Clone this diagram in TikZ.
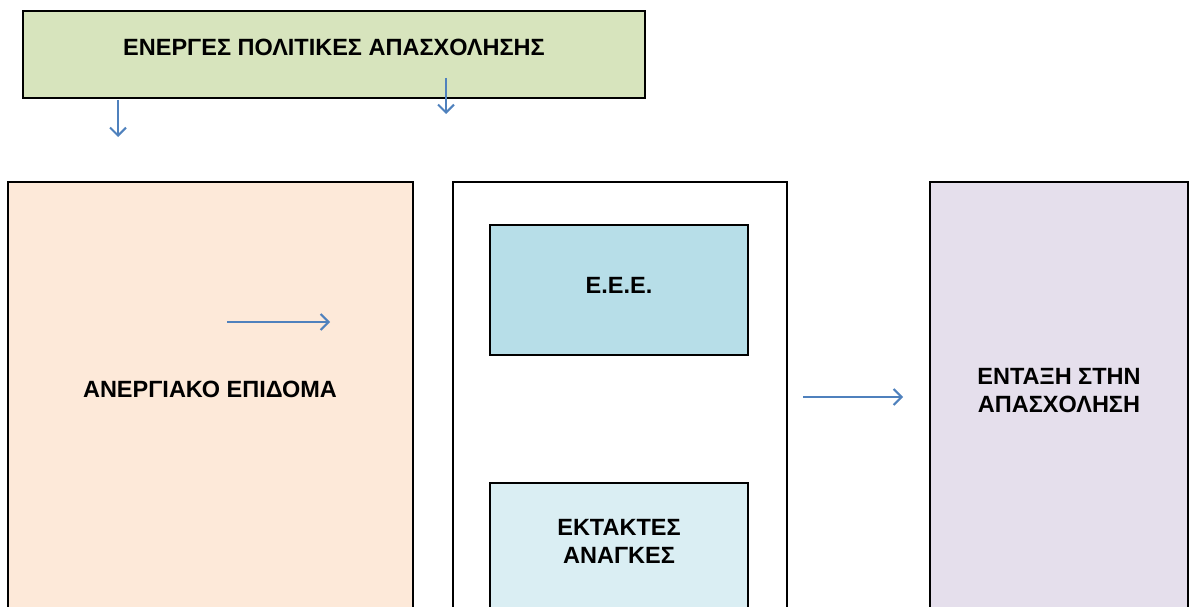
\documentclass[tikz,border=0pt]{standalone}
\usepackage{fontspec}
\setmainfont{Liberation Sans}
\usetikzlibrary{arrows.meta}
\definecolor{prasino}{HTML}{D7E4BD}
\definecolor{somon}{HTML}{FDE9D9}
\definecolor{galazio}{HTML}{B7DEE8}
\definecolor{anoixto}{HTML}{DAEEF3}
\definecolor{lila}{HTML}{E5DFEC}
\definecolor{velos}{HTML}{4F81BD}
\tikzset{
	koutI/.style={draw=black, line width=1.6pt, rectangle, inner sep=0pt},
	keimeno/.style={font=\fontsize{23.5}{28}\selectfont\bfseries, align=center, inner sep=0pt},
	velaki/.style={draw=velos, line width=2pt, -{Straight Barb[length=8pt,width=16pt,line width=2pt]}}
}
\begin{document}
\begin{tikzpicture}[x=1pt,y=-1pt]
		\useasboundingbox (0,0) rectangle (1190,607);
		\clip (0,0) rectangle (1190,607);
		\node[koutI, fill=prasino, minimum width=622pt, minimum height=87pt] (energes) at (334,54.5) {};
		\node[keimeno] (energes-txt) at (334,47) {ΕΝΕΡΓΕΣ ΠΟΛΙΤΙΚΕΣ ΑΠΑΣΧΟΛΗΣΗΣ};
		\node[koutI, fill=somon, minimum width=405pt, minimum height=450pt] (epidoma) at (210.5,407) {};
		\node[keimeno] (epidoma-txt) at (210,389) {ΑΝΕΡΓΙΑΚΟ ΕΠΙΔΟΜΑ};
		\node[koutI, fill=white, minimum width=334pt, minimum height=450pt] (mesaio) at (620,407) {};
		\node[koutI, fill=galazio, minimum width=258pt, minimum height=130pt] (eee) at (619,290) {};
		\node[keimeno] (eee-txt) at (619,285) {Ε.Ε.Ε.};
		\node[koutI, fill=anoixto, minimum width=258pt, minimum height=150pt] (ektaktes) at (619,558) {};
		\node[keimeno] (ektaktes-txt) at (619,541) {ΕΚΤΑΚΤΕΣ\\ΑΝΑΓΚΕΣ};
		\node[koutI, fill=lila, minimum width=258pt, minimum height=450pt] (entaxi) at (1059,407) {};
		\node[keimeno] (entaxi-txt) at (1059,391) {ΕΝΤΑΞΗ ΣΤΗΝ\\ΑΠΑΣΧΟΛΗΣΗ};
		% velakia
		\coordinate (a1) at (118,100);
		\coordinate (a2) at (118,137);
		\coordinate (b1) at (446,78);
		\coordinate (b2) at (446,114);
		\coordinate (c1) at (227,322);
		\coordinate (c2) at (330,322);
		\coordinate (d1) at (803,397);
		\coordinate (d2) at (903,397);
		\draw[velaki] (a1) -- (a2);
		\draw[velaki] (b1) -- (b2);
		\draw[velaki] (c1) -- (c2);
		\draw[velaki] (d1) -- (d2);
	\end{tikzpicture}
\end{document}
